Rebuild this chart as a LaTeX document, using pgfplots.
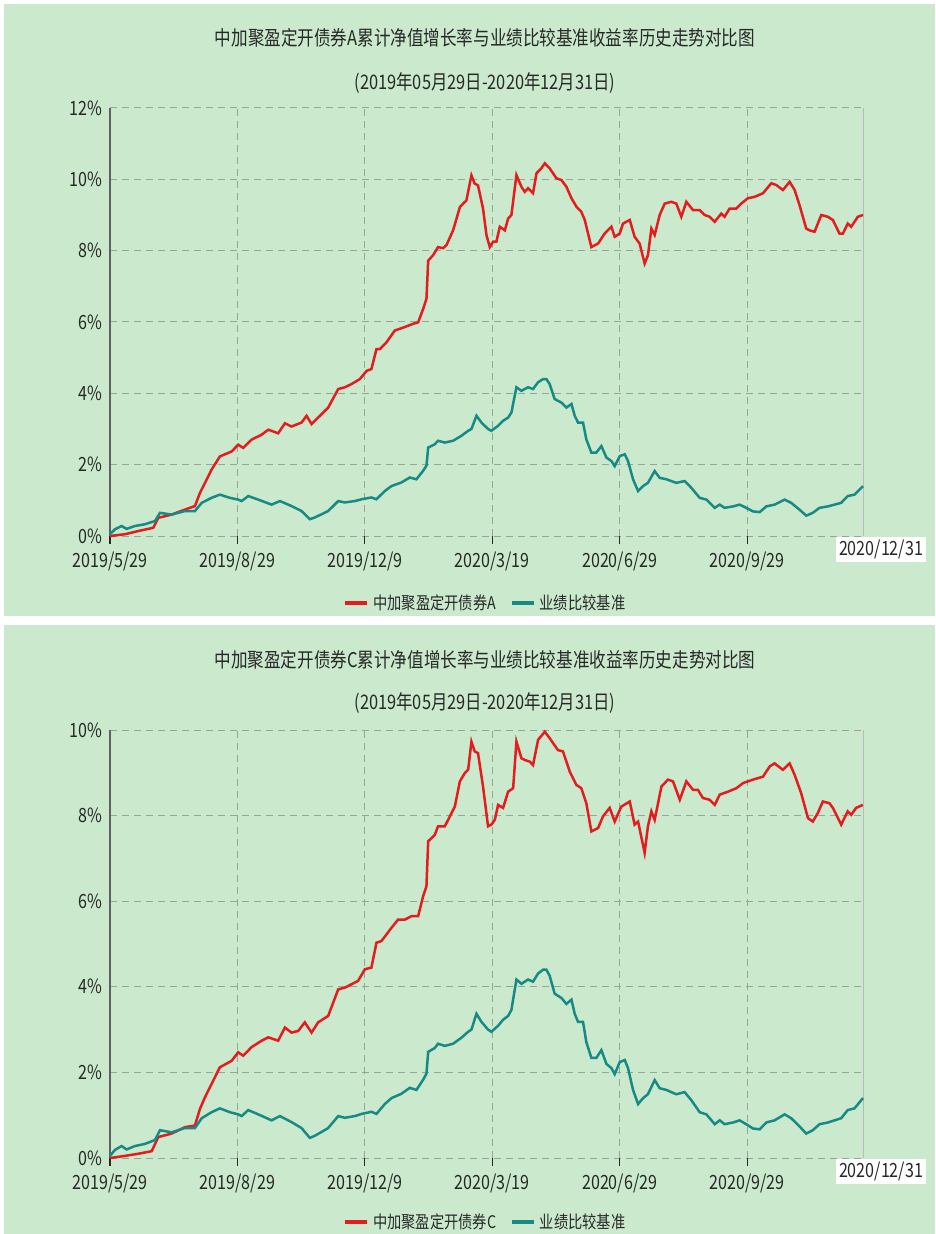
\documentclass[border=0pt]{standalone}
\usepackage{pgfplots}
\pgfplotsset{compat=1.18}
\usepackage{pgfplotstable}
\usepackage{fontspec}
\setmainfont{Noto Sans CJK SC}[FakeStretch=0.82]
\definecolor{bgG}{RGB}{202,233,205}
\definecolor{lnR}{RGB}{228,28,30}
\definecolor{lnT}{RGB}{24,138,134}
\definecolor{gridG}{RGB}{150,165,152}
\definecolor{txt}{RGB}{40,40,40}

\pgfplotstableread{
x y
0 0.00
7.8 0.05
14.7 0.14
22.4 0.23
25.0 0.51
31.9 0.60
38.8 0.74
44.0 0.84
46.6 1.21
49.2 1.49
52.6 1.86
56.9 2.23
63.0 2.37
66.4 2.56
69.0 2.47
73.3 2.70
78.5 2.84
82.0 2.98
87.1 2.88
90.6 3.16
94.0 3.07
99.2 3.18
101.8 3.37
104.4 3.14
107.8 3.32
113.0 3.60
118.2 4.12
121.6 4.17
125.1 4.26
129.4 4.40
132.9 4.63
135.4 4.68
138.0 5.24
139.8 5.24
143.2 5.43
147.5 5.76
150.1 5.81
152.7 5.86
157.0 5.95
159.6 5.99
162.2 6.37
163.9 6.65
164.8 7.72
167.3 7.87
169.9 8.10
172.5 8.07
174.3 8.16
177.7 8.57
181.2 9.22
182.9 9.32
184.6 9.41
187.2 10.11
188.9 9.88
190.6 9.83
193.2 9.18
195.0 8.43
196.7 8.10
198.4 8.25
200.1 8.25
201.9 8.67
204.5 8.57
206.2 8.90
207.9 9.00
210.5 10.12
213.1 9.79
214.8 9.65
216.5 9.75
219.1 9.61
220.9 10.17
223.4 10.31
225.2 10.45
227.7 10.31
231.2 10.03
233.8 9.98
236.4 9.79
239.0 9.47
241.6 9.23
244.1 9.09
245.9 8.86
249.3 8.10
252.8 8.20
256.2 8.48
259.7 8.67
261.4 8.39
264.0 8.48
265.7 8.76
269.2 8.86
271.7 8.39
274.3 8.20
276.9 7.64
278.6 7.87
280.4 8.62
282.1 8.44
284.7 9.00
287.3 9.32
290.7 9.37
293.3 9.32
295.9 8.95
298.5 9.37
301.9 9.14
305.4 9.14
308.0 9.00
310.6 8.95
313.2 8.81
316.6 9.04
318.3 8.95
320.9 9.18
324.4 9.18
326.9 9.32
330.4 9.47
333.9 9.51
338.2 9.61
342.5 9.89
345.1 9.84
348.5 9.70
352.0 9.93
354.6 9.70
357.1 9.28
360.6 8.62
362.3 8.57
364.9 8.53
368.4 9.00
371.8 8.95
374.4 8.86
377.8 8.48
379.6 8.48
382.1 8.76
383.9 8.67
387.3 8.95
390.0 9.00
}\redA

\pgfplotstableread{
x y
0 0.00
7.8 0.05
14.7 0.10
21.6 0.16
25.0 0.49
31.9 0.57
38.8 0.72
44.0 0.76
46.6 1.15
49.2 1.42
52.6 1.73
56.9 2.12
63.0 2.27
66.4 2.47
69.0 2.39
73.3 2.59
78.5 2.74
82.0 2.82
87.1 2.74
90.6 3.05
94.0 2.93
97.5 2.97
100.9 3.17
104.4 2.93
107.8 3.17
113.0 3.32
118.2 3.94
121.6 3.98
125.1 4.06
128.5 4.14
132.0 4.41
135.4 4.45
138.0 5.03
140.6 5.07
145.8 5.38
149.2 5.57
152.7 5.57
156.1 5.65
159.6 5.65
162.2 6.12
163.9 6.35
164.8 7.40
168.2 7.55
169.9 7.75
173.4 7.75
175.1 7.90
178.6 8.21
181.2 8.80
183.7 8.99
185.5 9.07
187.2 9.73
188.9 9.50
190.6 9.46
193.2 8.68
195.8 7.75
197.5 7.79
199.3 7.90
201.0 8.25
203.6 8.18
206.2 8.56
208.8 8.64
210.5 9.73
213.1 9.34
214.8 9.30
217.4 9.26
219.1 9.18
221.7 9.77
225.2 9.96
227.7 9.81
232.0 9.53
234.6 9.50
238.1 9.03
241.5 8.72
244.1 8.64
246.7 8.29
249.3 7.63
252.8 7.71
255.3 7.98
258.8 8.18
261.4 7.86
264.8 8.21
269.2 8.33
271.7 7.79
273.5 7.86
276.9 7.13
278.6 7.75
280.4 8.10
282.1 7.90
285.6 8.68
289.0 8.84
291.6 8.80
295.1 8.37
298.5 8.80
302.0 8.60
304.5 8.60
307.1 8.41
310.6 8.37
313.2 8.25
315.8 8.49
320.1 8.56
324.4 8.64
327.9 8.76
333.0 8.84
338.2 8.91
341.7 9.15
344.2 9.22
348.5 9.07
352.0 9.22
354.6 8.95
358.0 8.52
361.5 7.94
364.0 7.86
366.6 8.06
369.2 8.33
372.6 8.29
374.4 8.18
378.7 7.79
382.1 8.10
383.9 8.02
386.4 8.18
389.9 8.25
}\redC

\pgfplotstableread{
x y
0 0.05
2.6 0.19
6.0 0.28
8.6 0.20
12.9 0.28
18.1 0.33
23.3 0.42
25.9 0.65
31.9 0.60
38.8 0.70
44.0 0.70
47.5 0.93
52.6 1.07
56.9 1.16
62.1 1.07
66.4 1.02
68.2 0.98
71.6 1.12
76.8 1.02
83.7 0.88
88.0 0.98
94.0 0.84
99.2 0.70
103.5 0.47
106.1 0.52
109.6 0.61
113.0 0.70
118.2 0.98
121.6 0.94
126.8 0.98
130.3 1.03
135.4 1.08
138.0 1.03
142.3 1.26
145.8 1.40
150.9 1.50
155.3 1.64
158.7 1.59
162.2 1.83
163.9 1.97
164.8 2.48
168.2 2.57
169.9 2.67
173.4 2.62
177.7 2.67
182.0 2.81
185.5 2.95
187.2 3.00
189.8 3.37
192.4 3.18
195.8 3.00
197.5 2.95
201.0 3.09
203.6 3.23
206.2 3.32
207.9 3.46
210.5 4.17
213.1 4.07
216.5 4.17
219.1 4.12
221.7 4.31
224.3 4.40
226.0 4.40
227.7 4.26
230.3 3.84
233.8 3.74
236.4 3.60
239.0 3.70
240.7 3.37
242.4 3.18
245.0 3.18
246.7 2.71
249.3 2.34
251.9 2.34
254.5 2.52
257.1 2.20
259.7 2.10
261.4 1.96
264.0 2.24
266.6 2.29
268.3 2.10
270.9 1.59
273.5 1.26
276.1 1.40
278.6 1.49
282.1 1.82
284.7 1.63
288.2 1.59
290.7 1.54
293.3 1.49
297.6 1.54
301.1 1.35
305.4 1.07
308.9 1.02
313.2 0.79
315.8 0.88
318.3 0.79
322.7 0.83
326.1 0.88
329.5 0.79
333.0 0.69
336.5 0.67
339.9 0.83
344.2 0.88
349.4 1.02
352.8 0.93
357.1 0.74
360.6 0.57
364.0 0.65
367.5 0.79
371.8 0.83
375.3 0.88
378.7 0.93
382.1 1.12
385.6 1.16
390.0 1.40
}\bench

\pgfplotsset{
  panel/.style={
    anchor=south west, width=376.5pt, height=214pt, scale only axis,
    xmin=0, xmax=390, ymin=0,
    clip=false,
    axis x line*=bottom, axis y line*=left,
    x axis line style={draw=none},
    y axis line style={draw=gray!75!black, line width=0.7pt},
    xtick={0,66,132,198,264,330},
    xticklabels={2019/5/29,2019/8/29,2019/12/9,2020/3/19,2020/6/29,2020/9/29},
    xtick align=outside,
    x tick style={draw=txt, line width=0.6pt},
    major tick length=4pt,
    ytick style={draw=none},
    grid=major,
    grid style={draw=gridG, line width=0.5pt, dash pattern=on 3.5pt off 2.5pt},
    tick label style={font=\fontsize{9.8}{11}\selectfont, text=txt},
    xticklabel style={yshift=-0.5pt},
    yticklabel style={xshift=-0.5pt},
    extra x ticks={390},
    extra x tick labels={2020/12/31},
    extra x tick style={major tick length=0pt,
      major grid style={solid, draw=gray!55, line width=0.5pt},
      tick label style={fill=white, inner sep=1.5pt, xshift=9pt}},
    legend columns=2,
    legend style={draw=none, fill=none, font=\fontsize{8.7}{10}\selectfont, text=txt,
      /tikz/every even column/.append style={column sep=5pt}},
    legend image code/.code={\draw[line width=1.8pt] (0pt,0pt) -- (11pt,0pt);},
  },
}

\begin{document}
\begin{tikzpicture}
\path[use as bounding box] (0,0) rectangle (467.5pt,-617pt);
\fill[white] (0,0) rectangle (467.5pt,-617pt);
\fill[bgG] (2pt,-2pt) rectangle (467.5pt,-308pt);
\fill[bgG] (2pt,-312.5pt) rectangle (467.5pt,-617pt);

\node[text=txt, font=\fontsize{10.1}{11}\selectfont] at (242.5pt,-19pt) {中加聚盈定开债券A累计净值增长率与业绩比较基准收益率历史走势对比图};
\node[text=txt, font=\fontsize{10}{11}\selectfont] at (242.5pt,-41.5pt) {(2019年05月29日-2020年12月31日)};
\node[text=txt, font=\fontsize{10.1}{11}\selectfont] at (242.5pt,-330pt) {中加聚盈定开债券C累计净值增长率与业绩比较基准收益率历史走势对比图};
\node[text=txt, font=\fontsize{10}{11}\selectfont] at (242.5pt,-351.5pt) {(2019年05月29日-2020年12月31日)};

\begin{axis}[panel, at={(55pt,-268pt)}, ymax=12,
  ytick={0,2,4,6,8,10,12},
  yticklabels={0\%,2\%,4\%,6\%,8\%,10\%,12\%},
  legend style={at={(axis description cs:0.5,-0.157)}, anchor=center}]
\addplot[lnR, line width=1.25pt] table[x=x,y=y] {\redA};
\addlegendentry{中加聚盈定开债券A}
\addplot[lnT, line width=1.25pt] table[x=x,y=y] {\bench};
\addlegendentry{业绩比较基准}
\end{axis}

\begin{axis}[panel, at={(55pt,-579pt)}, ymax=10,
  ytick={0,2,4,6,8,10},
  yticklabels={0\%,2\%,4\%,6\%,8\%,10\%},
  legend style={at={(axis description cs:0.5,-0.150)}, anchor=center}]
\addplot[lnR, line width=1.25pt] table[x=x,y=y] {\redC};
\addlegendentry{中加聚盈定开债券C}
\addplot[lnT, line width=1.25pt] table[x=x,y=y] {\bench};
\addlegendentry{业绩比较基准}
\end{axis}
\end{tikzpicture}
\end{document}
